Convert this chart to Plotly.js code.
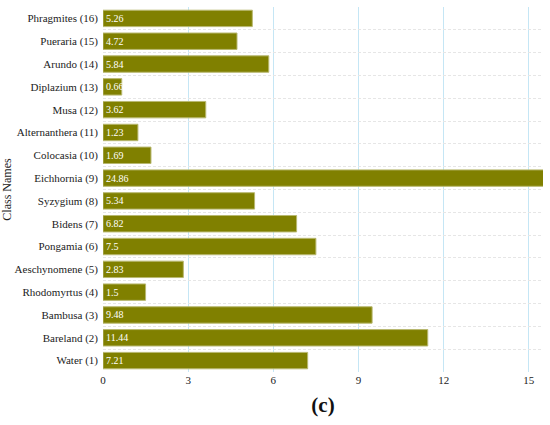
<!DOCTYPE html>
<html>
<head>
<meta charset="utf-8">
<script src="https://cdn.plot.ly/plotly-3.0.1.min.js"></script>
<style>
html,body{margin:0;padding:0;background:#fff;}
#chart{width:550px;height:425px;}
#chart svg text{font-family:"Liberation Serif","Times New Roman",serif !important;}
</style>
</head>
<body>
<div id="chart"></div>
<script>
var categories = ["Water (1)", "Bareland (2)", "Bambusa (3)", "Rhodomyrtus (4)", "Aeschynomene (5)", "Pongamia (6)", "Bidens (7)", "Syzygium (8)", "Eichhornia (9)", "Colocasia (10)", "Alternanthera (11)", "Musa (12)", "Diplazium (13)", "Arundo (14)", "Pueraria (15)", "Phragmites (16)"];
var values = [7.21, 11.44, 9.48, 1.5, 2.83, 7.5, 6.82, 5.34, 24.86, 1.69, 1.23, 3.62, 0.66, 5.84, 4.72, 5.26];
var valueLabels = values.map(function(v){ return String(v); });
var xTicks = [0, 3, 6, 9, 12, 15];

var serif = "Liberation Serif";
var trace = {
  type: "bar",
  orientation: "h",
  y: categories,
  x: values,
  text: valueLabels,
  textposition: "inside",
  insidetextanchor: "start",
  constraintext: "none",
  textfont: {family: serif, size: 10, color: "#ffffff"},
  marker: {color: "#808000", line: {color: "#b8b870", width: 1}},
  width: 0.72,
  hoverinfo: "none"
};
var layout = {
  width: 550, height: 425,
  margin: {l: 103, r: 7, t: 7, b: 53},
  paper_bgcolor: "#ffffff", plot_bgcolor: "#ffffff",
  showlegend: false,
  uniformtext: {minsize: 10, mode: "show"},
  font: {family: "serif", color: "#222222", size: 11},
  xaxis: {
    range: [0, 15.5],
    tickvals: xTicks,
    ticktext: xTicks.map(String),
    showgrid: true, gridcolor: "#c5e6f5", gridwidth: 1,
    zeroline: false, showline: false, ticks: "",
    tickfont: {family: serif, size: 11, color: "#222222"},
    title: {text: "<b>(c)</b>", font: {family: serif, size: 21, color: "#111111"}, standoff: 12}
  },
  yaxis: {
    type: "category",
    tickson: "boundaries",
    showgrid: true, gridcolor: "#e6e6e6", griddash: "3px,2px", gridwidth: 1,
    zeroline: false, showline: false, ticks: "",
    ticklabelstandoff: 4,
    tickfont: {family: serif, size: 11, color: "#222222"},
    title: {text: "Class Names", font: {family: serif, size: 12, color: "#222222"}, standoff: 2}
  }
};
Plotly.newPlot("chart", [trace], layout, {displayModeBar: false, staticPlot: true});
</script>
</body>
</html>
